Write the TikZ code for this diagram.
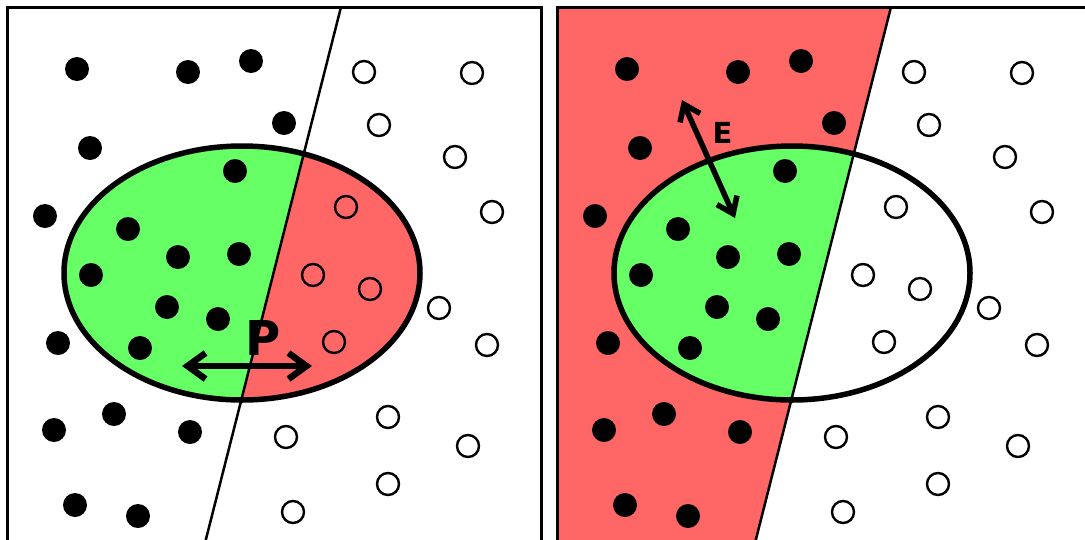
\documentclass[tikz,border=0pt]{standalone}
\usepackage{fontspec}
\setsansfont{DejaVu Sans}
\usetikzlibrary{arrows.meta}

\definecolor{hitgreen}{RGB}{102,255,102}
\definecolor{missred}{RGB}{255,102,102}

\begin{document}
\begin{tikzpicture}[
  x=1pt, y=-1pt,
  frame/.style={draw, line width=3pt},
  cut/.style={draw, line width=2.5pt},
  oval/.style={draw, line width=5.5pt},
  hitdot/.style={fill=black},
  missdot/.style={draw, line width=2.4pt},
  span/.style={line width=6.5pt, {Straight Barb[length=18pt,width=26pt]}-{Straight Barb[length=18pt,width=26pt]}},
  spansmall/.style={line width=5.5pt, {Straight Barb[length=15pt,width=22pt]}-{Straight Barb[length=15pt,width=22pt]}},
  tag/.style={font=\sffamily\bfseries, inner sep=0pt}
  ]
  \useasboundingbox (0,0) rectangle (1085,539);
  \clip (0,0) rectangle (1085,539);
  % left panel
  \begin{scope}
    \coordinate (ltop) at (341,7);
    \coordinate (lbot) at (204.5,545);
    \coordinate (lc) at (242,273);
    \begin{scope}
      \clip (0,0) -- (ltop) -- (lbot) -- (0,545) -- cycle;
      \fill[hitgreen] (lc) ellipse [x radius=178pt, y radius=127pt];
    \end{scope}
    \begin{scope}
      \clip (ltop) -- (549,0) -- (549,545) -- (lbot) -- cycle;
      \fill[missred] (lc) ellipse [x radius=178pt, y radius=127pt];
    \end{scope}
    \draw[oval] (lc) ellipse [x radius=178pt, y radius=127pt];
    \draw[cut] (ltop) -- (lbot);
  \end{scope}
  % right panel
  \begin{scope}[xshift=550pt]
    \coordinate (rtop) at (341,7);
    \coordinate (rbot) at (204.5,545);
    \coordinate (rc) at (242,273);
    \fill[missred] (7,7) -- (rtop) -- (rbot) -- (7,545) -- cycle;
    \begin{scope}
      \clip (0,0) -- (rtop) -- (rbot) -- (0,545) -- cycle;
      \fill[hitgreen] (rc) ellipse [x radius=178pt, y radius=127pt];
    \end{scope}
    \draw[oval] (rc) ellipse [x radius=178pt, y radius=127pt];
    \draw[cut] (rtop) -- (rbot);
  \end{scope}
  % samples and frames
  \foreach \s in {0pt,550pt} {
    \begin{scope}[xshift=\s]
    \foreach \x/\y in {77/69, 188/72, 251/61, 284/123, 90/148, 235/171, 45/216, 128/229,
                       178/257, 239/254, 91/275, 167/307, 218/319, 58/343, 140/348,
                       114/414, 54/430, 190/432, 75/505, 138/516}
      \fill[hitdot] (\x,\y) circle (12pt);
    \foreach \x/\y in {364/72, 472/73, 379/125, 455/157, 346/207, 492/212, 313/275, 370/289,
                       439/308, 334/342, 487/345, 388/417, 286/437, 468/446, 388/484, 293/512}
      \draw[missdot] (\x,\y) circle (11pt);
    \draw[frame] (7,7) rectangle (541,560);
    \end{scope}
  }
  % P
  \coordinate (pl) at (182,366);
  \coordinate (pr) at (312,366);
  \draw[span] (pl) -- (pr);
  \node[tag, font=\fontsize{48}{48}\sffamily\bfseries] (P) at (263.5,337.5) {P};
  % E
  \coordinate (et) at (682,100);
  \coordinate (eb) at (735,218);
  \draw[spansmall] (et) -- (eb);
  \node[tag, font=\fontsize{29}{29}\sffamily\bfseries] (E) at (722.5,133) {E};
\end{tikzpicture}
\end{document}
